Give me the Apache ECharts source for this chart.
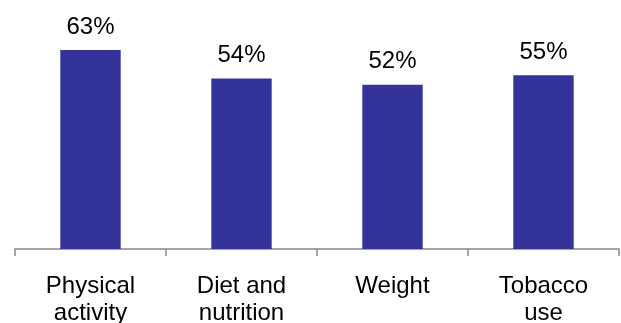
<!DOCTYPE html>
<html>
<head>
<meta charset="utf-8">
<script src="https://cdn.jsdelivr.net/npm/echarts@6/dist/echarts.min.js"></script>
<style>
  html, body { margin: 0; padding: 0; background: #ffffff; }
  #chart { width: 621px; height: 323px; }
</style>
</head>
<body>
<div id="chart"></div>
<script>
// Share of respondents by health topic
var categories = ['Physical\nactivity', 'Diet and\nnutrition', 'Weight', 'Tobacco\nuse'];
var percentValues = [63, 54, 52, 55];

var chart = echarts.init(document.getElementById('chart'), null, { renderer: 'canvas' });

chart.setOption({
  animation: false,
  backgroundColor: '#ffffff',
  textStyle: { fontFamily: 'Liberation Sans, Arial, sans-serif' },
  grid: {
    left: 15, right: 2, top: 28, bottom: 74,
    containLabel: false,
    outerBoundsMode: 'none'
  },
  xAxis: {
    type: 'category',
    data: categories,
    axisLine: { show: true, lineStyle: { color: '#888888', width: 1.5 } },
    axisTick: { show: true, alignWithLabel: false, length: 7, lineStyle: { color: '#888888', width: 1.5 } },
    axisLabel: {
      color: '#000000',
      fontSize: 24,
      lineHeight: 27,
      margin: 24,
      interval: 0
    }
  },
  yAxis: {
    type: 'value',
    min: 0,
    max: 70,
    show: false
  },
  series: [{
    type: 'bar',
    data: percentValues,
    barWidth: '40%',
    itemStyle: { color: '#333399' },
    label: {
      show: true,
      position: 'top',
      distance: 11,
      color: '#000000',
      fontSize: 24,
      formatter: function (p) { return p.value + '%'; }
    }
  }]
});
</script>
</body>
</html>
